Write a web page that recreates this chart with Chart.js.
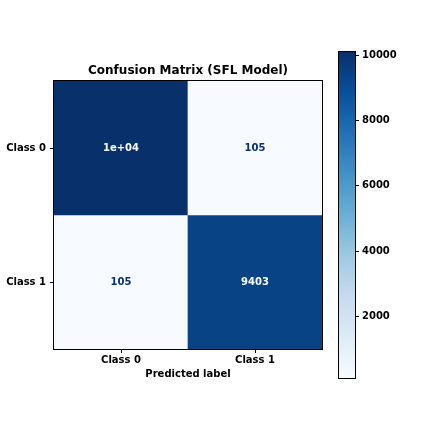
<!DOCTYPE html>
<html>
<head>
<meta charset="utf-8">
<script src="https://cdn.jsdelivr.net/npm/chart.js@4.4.0/dist/chart.umd.min.js"></script>
<style>
    body { margin: 0; background: #fff; }
    #wrap { position: relative; width: 432px; height: 432px; }
    #matrix-chart { position: absolute; left: 0; top: 0; }
    #colorbar-chart { position: absolute; left: 330px; top: 0; }
</style>
</head>
<body>
<div id="wrap">
    <canvas id="matrix-chart" width="432" height="432"></canvas>
    <canvas id="colorbar-chart" width="102" height="432"></canvas>
</div>
<script>
// Confusion matrix values (rows = true label, columns = predicted label)
const x_labels = ["Class 0", "Class 1"];
const y_labels = ["Class 0", "Class 1"];
const row_class0 = [10104, 105];
const row_class1 = [105, 9403];
const matrix = [row_class0, row_class1];
const colorbar_ticks = [2000, 4000, 6000, 8000, 10000];

const font_family = "'DejaVu Sans', sans-serif";

// matplotlib "Blues" colour map stops
const blues = [
    [247, 251, 255], [222, 235, 247], [198, 219, 239], [158, 202, 225],
    [107, 174, 214], [66, 146, 198], [33, 113, 181], [8, 81, 156], [8, 48, 107]
];

function blues_color(t) {
    t = Math.min(1, Math.max(0, t));
    const pos = t * (blues.length - 1);
    const i = Math.min(blues.length - 2, Math.floor(pos));
    const f = pos - i;
    const c = blues[i].map((v, k) => Math.round(v + (blues[i + 1][k] - v) * f));
    return "rgb(" + c.join(",") + ")";
}

const all_values = matrix.flat();
const vmin = Math.min(...all_values);
const vmax = Math.max(...all_values);

// Same rule as sklearn: use ".2g" unless it is longer than the plain integer
function format_value(v) {
    const rounded = Number(v.toPrecision(2));
    const exp = Math.floor(Math.log10(Math.abs(rounded)));
    let g;
    if (exp < -4 || exp >= 2) {
        const mant = parseFloat((rounded / Math.pow(10, exp)).toFixed(1)).toString();
        g = mant + "e" + (exp < 0 ? "-" : "+") + String(Math.abs(exp)).padStart(2, "0");
    } else {
        g = String(rounded);
    }
    return g.length > String(v).length ? String(v) : g;
}

// Draw the black frame around the plot area
const frame_plugin = {
    id: "frame",
    afterDraw(chart) {
        const a = chart.chartArea;
        const ctx = chart.ctx;
        ctx.save();
        ctx.strokeStyle = "#000";
        ctx.lineWidth = 1;
        ctx.strokeRect(a.left - 0.5, a.top - 0.5, a.right - a.left + 1, a.bottom - a.top + 1);
        ctx.restore();
    }
};

// Write the value in each cell
const cell_text_plugin = {
    id: "cellText",
    afterDatasetsDraw(chart) {
        const ctx = chart.ctx;
        const thresh = (vmax + vmin) / 2;
        ctx.save();
        ctx.font = "bold 10px " + font_family;
        ctx.textAlign = "center";
        ctx.textBaseline = "middle";
        chart.data.datasets.forEach((ds, di) => {
            chart.getDatasetMeta(di).data.forEach((el, i) => {
                const v = ds.values[i];
                ctx.fillStyle = v < thresh ? blues_color(1) : blues_color(0);
                ctx.fillText(format_value(v), el.x, (el.y + el.base) / 2);
            });
        });
        ctx.restore();
    }
};

const tick_font = { family: font_family, size: 10, weight: "bold" };

// One dataset per true-label row, each cell is a floating bar
const datasets = matrix.map((row, r) => ({
    data: row.map(() => [r - 0.5, r + 0.5]),
    values: row,
    backgroundColor: row.map(v => blues_color((v - vmin) / (vmax - vmin))),
    borderWidth: 0,
    grouped: false,
    barPercentage: 1,
    categoryPercentage: 1
}));

new Chart(document.getElementById("matrix-chart").getContext("2d"), {
    type: "bar",
    data: { labels: x_labels, datasets: datasets },
    plugins: [cell_text_plugin, frame_plugin],
    options: {
        responsive: false,
        animation: false,
        layout: { padding: { left: 0, right: 56, top: 0, bottom: 0 } },
        plugins: {
            legend: { display: false },
            tooltip: { enabled: false },
            title: {
                display: true,
                text: "Confusion Matrix (SFL Model)",
                color: "#000",
                font: { family: font_family, size: 12, weight: "bold", lineHeight: 1.2 },
                padding: { top: 63.8, bottom: 2.8 }
            }
        },
        scales: {
            x: {
                type: "category",
                offset: true,
                grid: { drawOnChartArea: false, offset: false, color: "#000", tickLength: 4 },
                border: { display: false },
                ticks: { color: "#000", font: tick_font, padding: 1 },
                title: {
                    display: true,
                    text: "Predicted label",
                    color: "#000",
                    font: { family: font_family, size: 10, weight: "bold", lineHeight: 1.2 },
                    padding: { top: 0, bottom: 52 }
                },
                afterFit(scale) { scale.height = 83; }
            },
            y: {
                type: "linear",
                min: -0.5,
                max: 1.5,
                reverse: true,
                grid: { drawOnChartArea: false, color: "#000", tickLength: 4 },
                border: { display: false },
                afterBuildTicks(scale) {
                    scale.ticks = y_labels.map((_, i) => ({ value: i }));
                },
                ticks: {
                    color: "#000",
                    font: tick_font,
                    padding: 4,
                    callback: (value) => y_labels[value]
                },
                afterFit(scale) { scale.width = 54; }
            },
            // empty right-hand box so the title centres over the matrix
            spacer: {
                type: "linear",
                position: "right",
                grid: { display: false },
                border: { display: false },
                ticks: { display: false },
                afterFit(scale) { scale.width = 54; }
            }
        }
    }
});

// Colour bar: a single floating bar from min to max with the Blues gradient
new Chart(document.getElementById("colorbar-chart").getContext("2d"), {
    type: "bar",
    data: {
        labels: [""],
        datasets: [{
            data: [[vmin, vmax]],
            borderWidth: 0,
            barPercentage: 1,
            categoryPercentage: 1,
            backgroundColor: (context) => {
                const area = context.chart.chartArea;
                if (!area) return blues_color(0.5);
                const g = context.chart.ctx.createLinearGradient(0, area.bottom, 0, area.top);
                for (let i = 0; i < blues.length; i++) {
                    g.addColorStop(i / (blues.length - 1), blues_color(i / (blues.length - 1)));
                }
                return g;
            }
        }]
    },
    plugins: [frame_plugin],
    options: {
        responsive: false,
        animation: false,
        layout: { padding: { left: 9, right: 0, top: 52, bottom: 54 } },
        plugins: { legend: { display: false }, tooltip: { enabled: false } },
        scales: {
            x: { display: false },
            y: {
                position: "right",
                min: vmin,
                max: vmax,
                grid: { drawOnChartArea: false, color: "#000", tickLength: 4 },
                border: { display: false },
                afterBuildTicks(scale) {
                    scale.ticks = colorbar_ticks.map(v => ({ value: v }));
                },
                ticks: { color: "#000", font: tick_font, padding: 3, callback: (v) => String(v) },
                afterFit(scale) { scale.width = 77; }
            }
        }
    }
});
</script>
</body>
</html>
